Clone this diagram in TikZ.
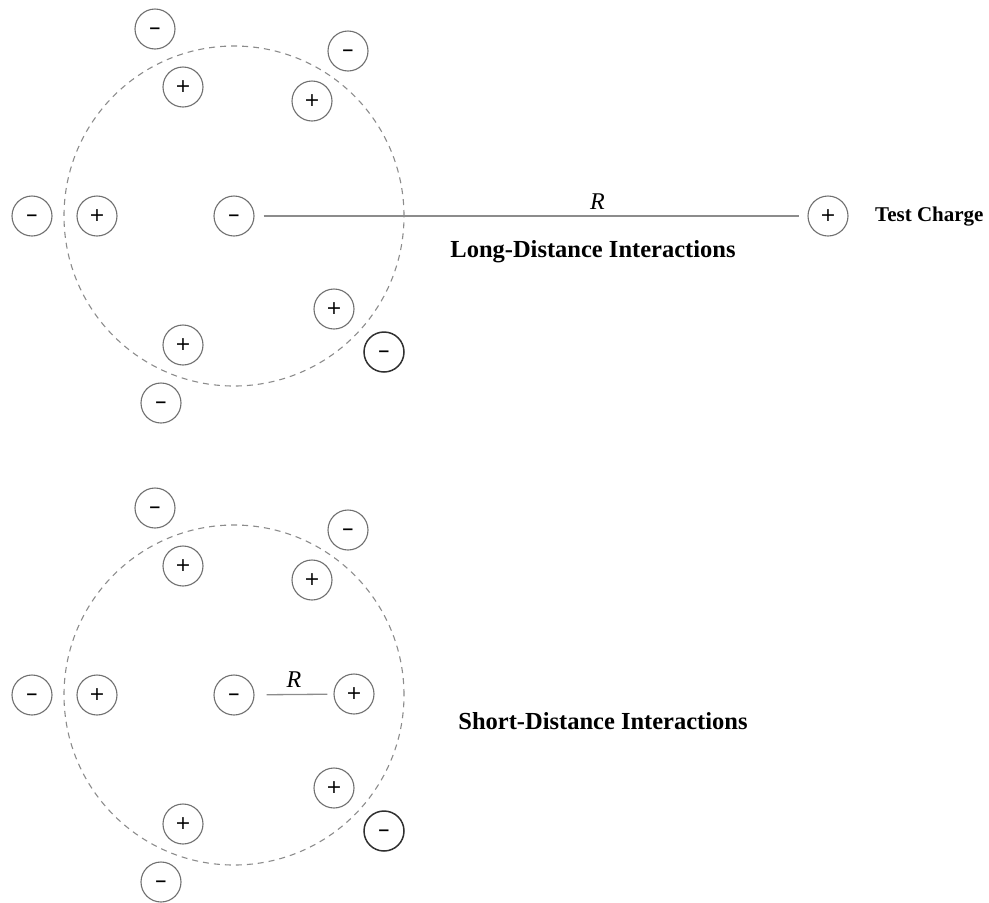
\documentclass[tikz,border=0pt]{standalone}
\usepackage{fontspec}
\setmainfont{Liberation Serif}
\newfontfamily\signfont{DejaVu Sans}
\definecolor{chargegray}{HTML}{707070}
\definecolor{shellgray}{HTML}{8C8C8C}
\definecolor{linegray}{HTML}{8C8C8C}
\definecolor{darkring}{HTML}{303030}
\newcommand\possign{+}
\newcommand\negsign{\textbf{−}\vphantom{\textbf{+}}}
\newcommand\chargecluster[2]{%
\begin{scope}[yshift=#2]
  \node[shell] (#1shell) at (234,216) {};
  \node[negcharge] (#1ma) at (155,29) {\negsign};
  \node[poscharge] (#1pa) at (183,87) {\possign};
  \node[negcharge] (#1mb) at (348,51) {\negsign};
  \node[poscharge] (#1pb) at (312,101) {\possign};
  \node[negcharge] (#1mc) at (32,216) {\negsign};
  \node[poscharge] (#1pc) at (97,216) {\possign};
  \node[negcharge] (#1center) at (234,216) {\negsign};
  \node[poscharge] (#1pd) at (334,309) {\possign};
  \node[negcharge,darkcharge] (#1md) at (384,352) {\negsign};
  \node[poscharge] (#1pe) at (183,345) {\possign};
  \node[negcharge] (#1me) at (161,403) {\negsign};
\end{scope}}
\begin{document}
\begin{tikzpicture}[x=1pt,y=-1pt,
  charge/.style={circle, draw=chargegray, line width=1.1pt, minimum size=40pt, inner sep=0pt, text=black},
  poscharge/.style={charge, font=\signfont\fontsize{19}{19}\selectfont},
  negcharge/.style={charge, font=\signfont\fontsize{15}{15}\selectfont},
  darkcharge/.style={draw=darkring, line width=1.5pt},
  shell/.style={circle, draw=shellgray, dash pattern=on 6pt off 5pt, line width=1.1pt, minimum size=340pt, inner sep=0pt},
  rline/.style={draw=linegray, line width=1.3pt},
  rlabel/.style={font=\fontsize{24}{24}\selectfont\itshape, inner sep=0pt},
  title/.style={font=\fontsize{24.5}{24.5}\selectfont\bfseries, inner sep=0pt},
  small/.style={font=\fontsize{21}{21}\selectfont\bfseries, inner sep=0pt, anchor=west}]
\useasboundingbox (0,0) rectangle (989,903);
% long-distance cluster
\chargecluster{a}{0pt}
\node[poscharge] (test) at (828,216) {\possign};
\node[small] (testlabel) at (875,217) {Test Charge};
\draw[rline, shorten <=9pt, shorten >=8pt] (acenter) -- (test)
  node[rlabel, pos=0.62, above=6pt] (rlong) {R};
\node[title] (longtitle) at (593,252) {Long-Distance Interactions};
% short-distance cluster
\chargecluster{b}{-479pt}
\node[poscharge] (near) at (354,694) {\possign};
\draw[rline, shorten <=12pt, shorten >=6pt] (bcenter) -- (near)
  node[rlabel, midway, above=6pt] (rshort) {R};
\node[title] (shorttitle) at (603,721) {Short-Distance Interactions};
\end{tikzpicture}
\end{document}
